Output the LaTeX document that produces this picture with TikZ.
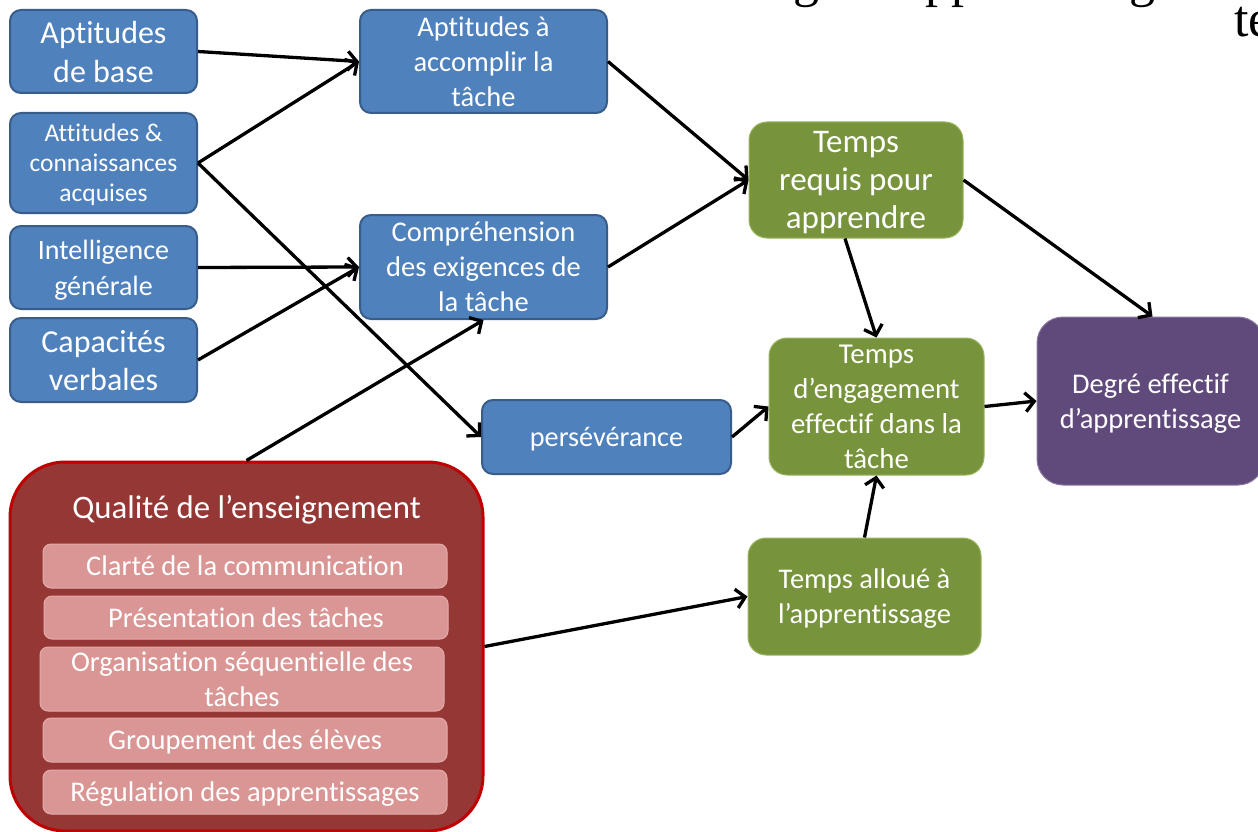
\documentclass[tikz,border=0pt]{standalone}
\usepackage{fontspec}
\setmainfont{Carlito}[Ligatures={NoCommon}]
\newfontfamily\seriffont{Liberation Serif}
\usetikzlibrary{arrows.meta}
\definecolor{bfill}{HTML}{4F81BD}
\definecolor{bline}{HTML}{385D8A}
\definecolor{gfill}{HTML}{77933C}
\definecolor{gline}{HTML}{9BB55F}
\definecolor{pfill}{HTML}{604A7B}
\definecolor{pline}{HTML}{8A78A0}
\definecolor{rfill}{HTML}{953735}
\definecolor{rline}{HTML}{C00000}
\definecolor{kfill}{HTML}{D99694}
\definecolor{kline}{HTML}{E3ACAA}
\begin{document}
\begin{tikzpicture}[x=1pt,y=-1pt,
  fs/.style 2 args={font=\fontsize{#1pt}{#2pt}\selectfont},
  box/.style={rectangle, align=center, text=white, inner sep=0pt, text depth=0pt},
  bluebox/.style={box, fill=bfill, draw=bline, line width=2pt, rounded corners=11pt},
  greenbox/.style={box, fill=gfill, draw=gline, line width=1pt, rounded corners=18pt},
  purplebox/.style={box, fill=pfill, draw=pline, line width=1pt, rounded corners=26pt},
  redbox/.style={box, fill=rfill, draw=rline, line width=3pt, rounded corners=55pt},
  pinkbox/.style={box, fill=kfill, draw=kline, line width=1pt, rounded corners=8pt,
    minimum width=404pt, fs={28.5}{35}},
  arr/.style={line width=3.3pt, -{Straight Barb[length=9pt,width=19pt]}},
  frag/.style={font=\seriffont\fontsize{52pt}{60pt}\selectfont, anchor=base, inner sep=0pt}
]
\useasboundingbox (0,0) rectangle (1258,832);
\fill[white] (0,0) rectangle (1258,832);

% fragments of the cut-off title
\begin{scope}
\clip (0,0) rectangle (1258,832);
\node[frag] (f1) at (806,-3) {g};
\node[frag, anchor=base west] (f2) at (925,-3) {pp};
\node[frag] (f3) at (1142,-3) {g};
\node[frag, anchor=base west] (f4) at (1234,37) {te};
\end{scope}

% left column
\node[bluebox, minimum width=187pt, minimum height=83pt, fs={32}{39}] (apb) at (103.5,51.5) {Aptitudes\\de base};
\node[bluebox, minimum width=187pt, minimum height=100pt, fs={25.5}{30}] (att) at (103.5,163) {Attitudes \&\\connaissances\\acquises};
\node[bluebox, minimum width=187pt, minimum height=83pt, fs={28}{36}] (intel) at (103.5,267.5) {Intelligence\\générale};
\node[bluebox, minimum width=187pt, minimum height=84pt, fs={32}{38}] (cap) at (103.5,360) {Capacités\\verbales};

% middle column
\node[bluebox, minimum width=247pt, minimum height=103pt, fs={28.5}{35}] (aac) at (483.5,61.5) {Aptitudes à\\accomplir la\\tâche};
\node[bluebox, minimum width=247pt, minimum height=104pt, fs={28.5}{35}] (comp) at (483.5,267) {Compréhension\\des exigences de\\la tâche};
\node[bluebox, minimum width=249pt, minimum height=74pt, fs={28.2}{35}] (pers) at (606.5,437) {persévérance};

% green and purple
\node[greenbox, minimum width=214pt, minimum height=116pt, fs={33}{38}] (treq) at (856,180) {Temps\\requis pour\\apprendre};
\node[greenbox, minimum width=215pt, minimum height=137pt, fs={28.8}{35}] (eng) at (876.5,406.5) {Temps\\d’engagement\\effectif dans la\\tâche};
\node[greenbox, minimum width=233pt, minimum height=117pt, fs={28.5}{35}] (tall) at (864.5,596.5) {Temps alloué à\\l’apprentissage};
\node[purplebox, minimum width=227pt, minimum height=168pt, fs={28.5}{35}] (deg) at (1150.5,401) {Degré effectif\\d’apprentissage};

% quality of teaching
\node[redbox, minimum width=473pt, minimum height=369pt] (qual) at (246.5,646.5) {};
\node[fs={32.8}{38}, text=white, anchor=base, inner sep=0pt] (qt) at (246.5,518) {Qualité de l’enseignement};
\node[pinkbox, minimum height=44pt] (clar) at (245,566) {Clarté de la communication};
\node[pinkbox, minimum height=43pt] (pres) at (246,617.5) {Présentation des tâches};
\node[pinkbox, minimum height=64pt] (org) at (242,679) {Organisation séquentielle des\\tâches};
\node[pinkbox, minimum height=44pt] (grp) at (245,740) {Groupement des élèves};
\node[pinkbox, minimum height=44pt] (reg) at (245,792) {Régulation des apprentissages};

% connectors
\draw[arr] (apb.east) -- (aac.west);
\draw[arr] (att.east) -- (aac.west);
\draw[arr] (att.east) -- (pers.west);
\draw[arr] (intel.east) -- (comp.west);
\draw[arr] (cap.east) -- (comp.west);
\draw[arr] (qual.north) -- (comp.south);
\draw[arr] (aac.east) -- (treq.west);
\draw[arr] (comp.east) -- (treq.west);
\draw[arr] (treq.east) -- ([xshift=2pt]deg.north);
\draw[arr] ([xshift=-11pt]treq.south) -- (eng.north);
\draw[arr] (pers.east) -- (eng.west);
\draw[arr] (eng.east) -- (deg.west);
\draw[arr] (tall.north) -- (eng.south);
\draw[arr] (qual.east) -- (tall.west);
\end{tikzpicture}
\end{document}
